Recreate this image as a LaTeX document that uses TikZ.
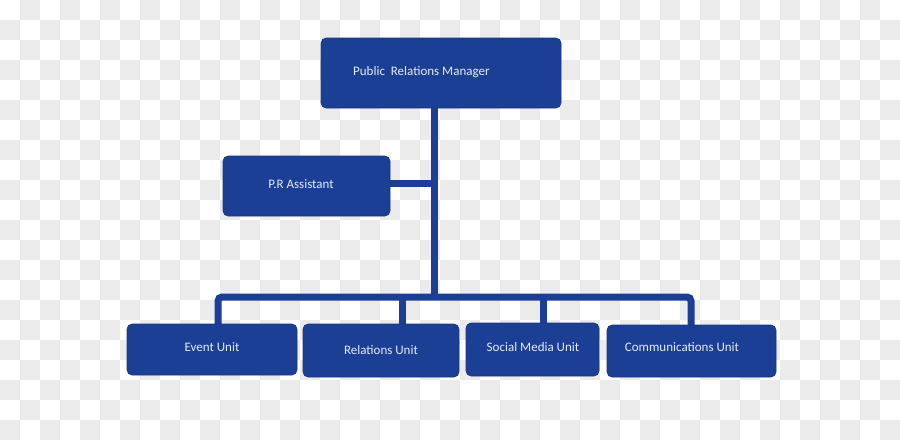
\documentclass[tikz,border=0pt]{standalone}
\usepackage{fontspec}
\setmainfont{Carlito}
\definecolor{boxblue}{HTML}{1C3F96}
\definecolor{checker}{HTML}{EBEBEB}
\definecolor{txt}{HTML}{E6EAF3}
\begin{document}
\begin{tikzpicture}[x=1pt,y=-1pt,
  unitbox/.style={draw=boxblue!85!black,line width=0.6pt,fill=boxblue,rounded corners=5pt,inner sep=0pt},
  label/.style={text=txt,font=\fontsize{13}{15}\selectfont,inner sep=0pt},
  wire/.style={draw=boxblue,line width=7pt}]
\useasboundingbox (0,0) rectangle (900,440);
\fill[white] (0,0) rectangle (900,440);
\foreach \i in {0,...,44}{\foreach \j in {0,...,21}{
  \pgfmathtruncatemacro{\p}{mod(\i+\j,2)}
  \ifnum\p=1 \fill[checker] (\i*20,\j*20) rectangle ++(20,20);\fi}}
% wires
\coordinate (trunkbot) at (434,297);
\draw[wire] (434,105) -- (trunkbot);
\draw[wire] (388,183) -- (434,183);
\draw[wire,rounded corners=4pt] (218,326) -- (218,297) -- (691,297) -- (691,327);
\draw[wire] (402,297) -- (402,326);
\draw[wire] (543,297) -- (543,325);
% boxes
\node[unitbox,minimum width=240pt,minimum height=70pt] (prm) at (441,73) {};
\node[label,anchor=west] (prmt) at (353,72) {Public\ \ Relations Manager};
\node[unitbox,minimum width=167pt,minimum height=60pt] (asst) at (306.5,186) {};
\node[label] (asstt) at (301,184) {P.R Assistant};
\node[unitbox,minimum width=170pt,minimum height=51pt] (event) at (212,349.5) {};
\node[label] (eventt) at (212,347) {Event Unit};
\node[unitbox,minimum width=156pt,minimum height=53pt] (rel) at (381,350.5) {};
\node[label] (relt) at (381,350) {Relations Unit};
\node[unitbox,minimum width=133pt,minimum height=53pt] (soc) at (532.5,349.5) {};
\node[label] (soct) at (533,347) {Social Media Unit};
\node[unitbox,minimum width=169pt,minimum height=52pt] (comm) at (691.5,351) {};
\node[label] (commt) at (682,347) {Communications Unit};
\end{tikzpicture}
\end{document}
